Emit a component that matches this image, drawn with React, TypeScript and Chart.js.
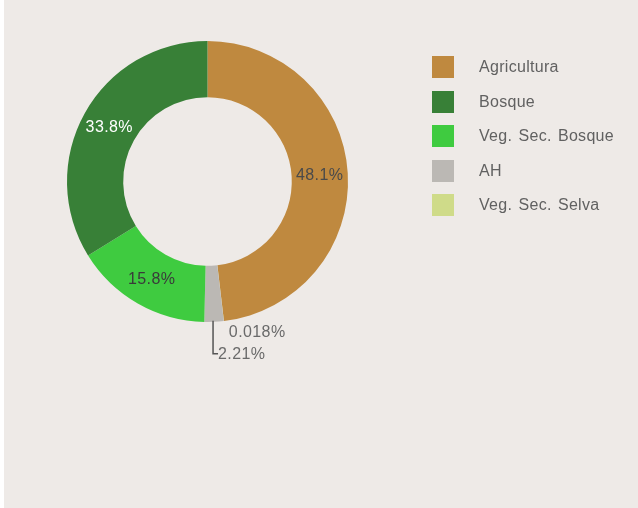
import React, { useEffect, useRef } from "react";
import { Chart, registerables } from "chart.js";

Chart.register(...registerables);

// Legend order
const categories = ["Agricultura", "Bosque", "Veg. Sec. Bosque", "AH", "Veg. Sec. Selva"];
const values = [48.1, 33.8, 15.8, 2.21, 0.018];
const valueLabels = ["48.1%", "33.8%", "15.8%", "2.21%", "0.018%"];
// Clockwise order of slices in the ring, starting at 12 o'clock
const sliceOrder = ["Agricultura", "Veg. Sec. Selva", "AH", "Veg. Sec. Bosque", "Bosque"];

const colors: Record<string, string> = {
  Agricultura: "#BF893F",
  Bosque: "#388037",
  "Veg. Sec. Bosque": "#3FCB40",
  AH: "#BBB8B4",
  "Veg. Sec. Selva": "#CFDB89",
};
const labelColors: Record<string, string> = {
  Agricultura: "#4a4a4a",
  Bosque: "#ffffff",
  "Veg. Sec. Bosque": "#3a3a3a",
  AH: "#6a6a6a",
  "Veg. Sec. Selva": "#6a6a6a",
};

const BG = "#EEEAE7";
const FONT = "'Liberation Sans', Arial, sans-serif";

const labelPlugin = {
  id: "sliceLabels",
  afterDatasetsDraw(chart: any) {
    const ctx = chart.ctx;
    const meta = chart.getDatasetMeta(0);
    ctx.save();
    ctx.font = `16px ${FONT}`;
    try { (ctx as any).letterSpacing = "0.4px"; } catch (e) {}
    meta.data.forEach((arc: any, i: number) => {
      const name = sliceOrder[i];
      const idx = categories.indexOf(name);
      const text = valueLabels[idx];
      const p = arc.getProps(["x", "y", "startAngle", "endAngle", "innerRadius", "outerRadius"], true);
      const mid = (p.startAngle + p.endAngle) / 2;
      const pct = values[idx];
      ctx.fillStyle = labelColors[name];
      if (pct >= 5) {
        const r = (p.innerRadius + p.outerRadius) / 2;
        ctx.textAlign = "center";
        ctx.textBaseline = "middle";
        ctx.fillText(text, p.x + Math.cos(mid) * r, p.y + Math.sin(mid) * r + 1);
      } else if (pct >= 1) {
        const ox = p.x + Math.cos(mid) * p.outerRadius;
        const oy = p.y + Math.sin(mid) * p.outerRadius;
        ctx.strokeStyle = "#555555";
        ctx.lineWidth = 1.5;
        ctx.beginPath();
        ctx.moveTo(ox - 1, oy - 1);
        ctx.lineTo(ox - 1, oy + 32);
        ctx.lineTo(ox + 4, oy + 32);
        ctx.stroke();
        ctx.textAlign = "left";
        ctx.textBaseline = "middle";
        ctx.fillText(text, ox + 4, oy + 32.5);
      } else {
        const ox = p.x + Math.cos(mid) * p.outerRadius;
        const oy = p.y + Math.sin(mid) * p.outerRadius;
        ctx.textAlign = "left";
        ctx.textBaseline = "middle";
        ctx.fillText(text, ox + 5, oy + 11.5);
      }
    });
    ctx.restore();
  },
};

export default function App() {
  const ref = useRef<HTMLCanvasElement>(null);
  useEffect(() => {
    document.body.style.margin = "0";
    const chart = new Chart(ref.current!, {
      type: "doughnut",
      data: {
        labels: sliceOrder,
        datasets: [
          {
            data: sliceOrder.map((n) => values[categories.indexOf(n)]),
            backgroundColor: sliceOrder.map((n) => colors[n]),
            borderWidth: 0,
            hoverOffset: 0,
          },
        ],
      },
      options: {
        responsive: false,
        animation: false,
        cutout: "60%",
        layout: { padding: { left: 63, top: 41, right: 290, bottom: 186 } },
        plugins: { legend: { display: false }, tooltip: { enabled: false } },
      },
      plugins: [labelPlugin],
    });
    return () => chart.destroy();
  }, []);

  return (
    <div style={{ position: "relative", width: 638, height: 508, background: "#ffffff", overflow: "hidden" }}>
      <div style={{ position: "absolute", left: 4, top: 0, width: 634, height: 508, background: BG }}>
        <canvas ref={ref} width={634} height={508} style={{ position: "absolute", left: 0, top: 0 }} />
        {categories.map((c, i) => (
          <div
            key={c}
            style={{
              position: "absolute",
              left: 428,
              top: 56 + i * 34.5,
              height: 22,
              display: "flex",
              alignItems: "center",
              fontFamily: FONT,
              fontSize: 16,
              letterSpacing: "0.3px",
              wordSpacing: "1.5px",
              color: "#616161",
              whiteSpace: "nowrap",
            }}
          >
            <span style={{ display: "inline-block", width: 22, height: 22, background: colors[c], marginRight: 25 }} />
            <span>{c}</span>
          </div>
        ))}
      </div>
    </div>
  );
}
